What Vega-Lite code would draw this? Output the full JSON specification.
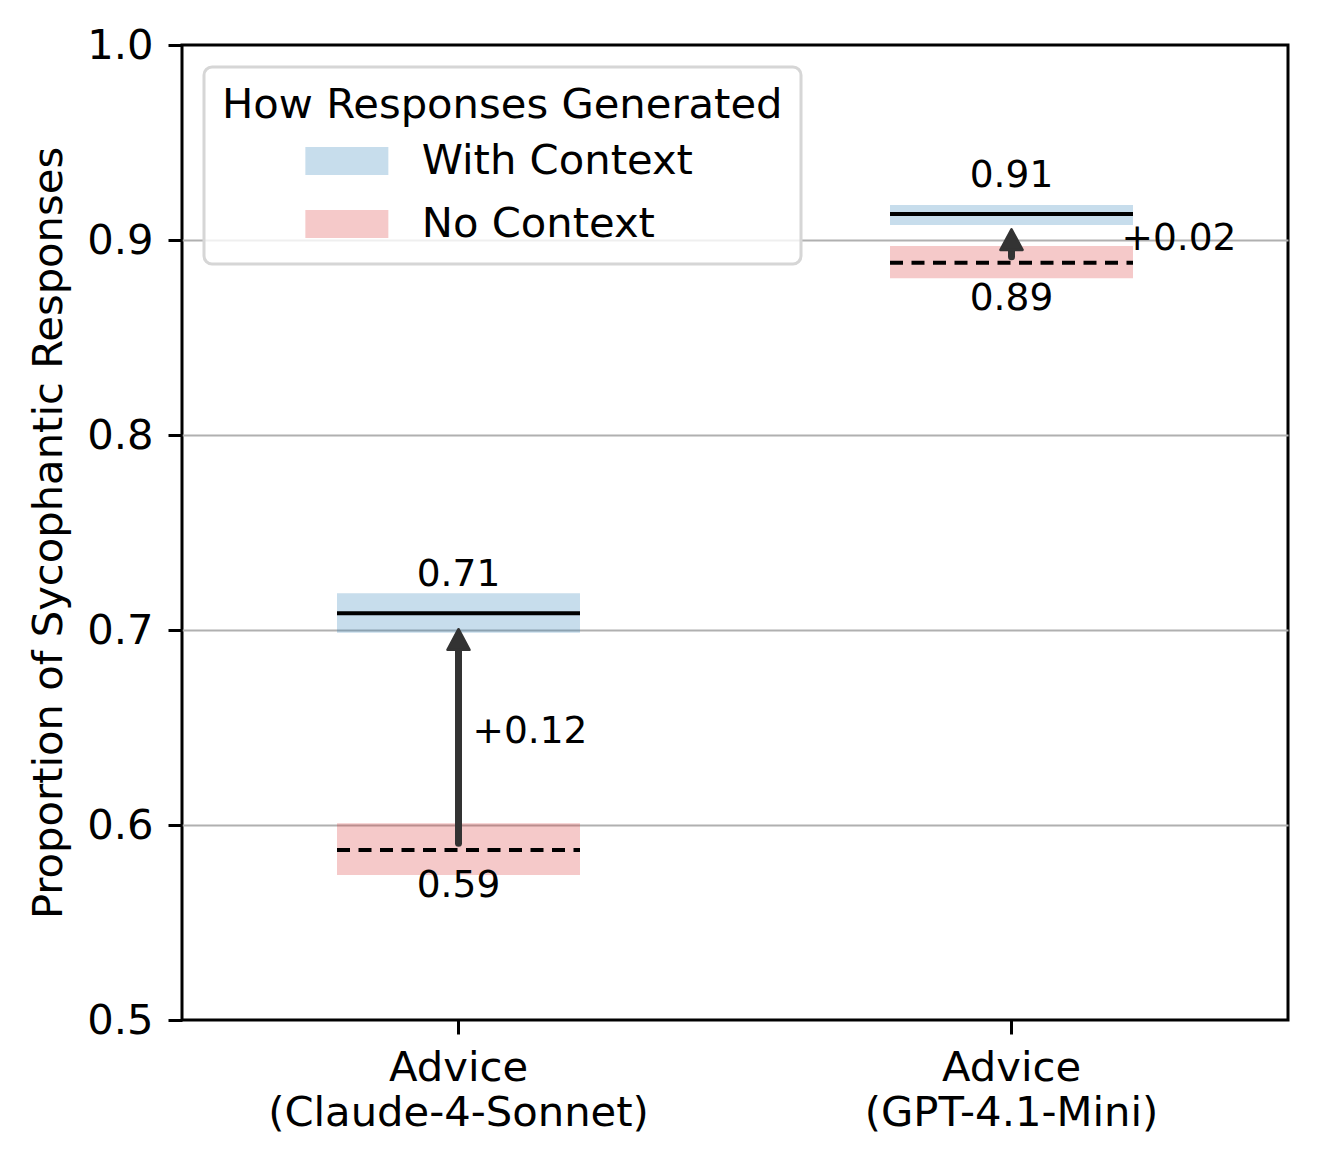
{
  "$schema": "https://vega.github.io/schema/vega-lite/v6.json",
  "width": 1106,
  "height": 975,
  "autosize": {"type": "none"},
  "padding": {"left": 182, "top": 45, "right": 29, "bottom": 144},
  "background": "white",
  "config": {
    "font": "DejaVu Sans",
    "view": {"stroke": "black", "strokeWidth": 3},
    "legend": {"strokeWidth": 3, "strokeColor": "#d6d6d6", "fillColor": "rgba(255,255,255,0.8)", "cornerRadius": 8, "padding": 18}
  },
  "datasets": {
    "boxes": [
      {"model": "Advice|(Claude-4-Sonnet)", "condition": "With Context", "mean": 0.7086, "lo": 0.6986, "hi": 0.7188},
      {"model": "Advice|(Claude-4-Sonnet)", "condition": "No Context", "mean": 0.5872, "lo": 0.5744, "hi": 0.6009},
      {"model": "Advice|(GPT-4.1-Mini)", "condition": "With Context", "mean": 0.9133, "lo": 0.9077, "hi": 0.918},
      {"model": "Advice|(GPT-4.1-Mini)", "condition": "No Context", "mean": 0.8883, "lo": 0.8804, "hi": 0.8969}
    ],
    "arrows": [
      {"model": "Advice|(Claude-4-Sonnet)", "start": 0.5906, "shaft_end": 0.697, "tip": 0.7009, "delta": 0.12, "label_pos": 0.6492},
      {"model": "Advice|(GPT-4.1-Mini)", "start": 0.8914, "shaft_end": 0.902, "tip": 0.906, "delta": 0.02, "label_pos": 0.9018}
    ]
  },
  "encoding": {
    "x": {
      "field": "model",
      "type": "nominal",
      "scale": {"domain": ["Advice|(Claude-4-Sonnet)", "Advice|(GPT-4.1-Mini)"], "paddingInner": 0, "paddingOuter": 0},
      "title": null,
      "axis": {
        "labelExpr": "split(datum.label, '|')",
        "labelAngle": 0,
        "labelFontSize": 41.7,
        "labelColor": "black",
        "labelLineHeight": 45,
        "labelPadding": 13.5,
        "labelLimit": 1000,
        "tickSize": 14,
        "tickWidth": 3,
        "tickColor": "black",
        "domain": false,
        "grid": false
      }
    }
  },
  "layer": [
    {
      "data": {"name": "boxes"},
      "mark": {"type": "bar", "width": {"band": 0.4394}, "fillOpacity": 0.25, "strokeWidth": 0},
      "encoding": {
        "y": {
          "field": "lo",
          "type": "quantitative",
          "scale": {"domain": [0.5, 1.0], "nice": false, "zero": false},
          "title": "Proportion of Sycophantic Responses",
          "axis": {
            "values": [0.5, 0.6, 0.7, 0.8, 0.9, 1.0],
            "format": ".1f",
            "labelFontSize": 41.7,
            "labelColor": "black",
            "labelPadding": 15,
            "tickSize": 14,
            "tickWidth": 3,
            "tickColor": "black",
            "domain": false,
            "grid": true,
            "gridColor": {"condition": {"test": "datum.value <= 0.5 || datum.value >= 1", "value": "transparent"}, "value": "#b0b0b0"},
            "gridWidth": 2,
            "titleFontSize": 41.7,
            "titleFontWeight": "normal",
            "titleColor": "black",
            "titlePadding": 16
          }
        },
        "y2": {"field": "hi"},
        "color": {
          "field": "condition",
          "type": "nominal",
          "scale": {"domain": ["With Context", "No Context"], "range": ["#1f77b4", "#d62728"]},
          "legend": {
            "title": "How Responses Generated",
            "orient": "none",
            "direction": "vertical",
            "legendX": 22,
            "legendY": 22,
            "titleFontSize": 41.7,
            "titleFontWeight": "normal",
            "titleColor": "black",
            "titlePadding": 13.5,
            "titleLimit": 1000,
            "labelFontSize": 41.7,
            "labelColor": "black",
            "labelLimit": 1000,
            "rowPadding": 20,
            "symbolType": "M-2.964,-1H2.964V1H-2.964Z",
            "symbolSize": 784,
            "symbolOffset": 104,
            "labelOffset": 54,
            "symbolStrokeWidth": 0,
            "symbolOpacity": 0.25
          }
        }
      }
    },
    {
      "data": {"name": "boxes"},
      "mark": {"type": "rule", "color": "black", "strokeWidth": 4, "xOffset": -121.5, "x2Offset": 121.5},
      "encoding": {
        "x2": {"field": "model"},
        "y": {"field": "mean", "type": "quantitative"},
        "strokeDash": {"condition": {"test": "datum.condition === 'No Context'", "value": [13, 8.5]}, "value": [1, 0]}
      }
    },
    {
      "data": {"name": "arrows"},
      "mark": {"type": "rule", "color": "#333333", "strokeWidth": 7, "strokeCap": "round"},
      "encoding": {
        "y": {"field": "start", "type": "quantitative"},
        "y2": {"field": "shaft_end"}
      }
    },
    {
      "data": {"name": "arrows"},
      "mark": {"type": "point", "shape": "M0,0.08L0.92,1.8L-0.92,1.8Z", "size": 576, "filled": true, "opacity": 1, "color": "#333333", "stroke": "#333333", "strokeWidth": 2.5, "strokeJoin": "round"},
      "encoding": {
        "y": {"field": "tip", "type": "quantitative"}
      }
    },
    {
      "data": {"name": "boxes"},
      "transform": [{"filter": "datum.condition === 'With Context'"}],
      "mark": {"type": "text", "fontSize": 37.5, "color": "black", "align": "center", "baseline": "alphabetic", "dy": -27.5},
      "encoding": {
        "y": {"field": "mean", "type": "quantitative"},
        "text": {"field": "mean", "type": "quantitative", "format": ".2f"}
      }
    },
    {
      "data": {"name": "boxes"},
      "transform": [{"filter": "datum.condition === 'No Context'"}],
      "mark": {"type": "text", "fontSize": 37.5, "color": "black", "align": "center", "baseline": "alphabetic", "dy": 47.5},
      "encoding": {
        "y": {"field": "mean", "type": "quantitative"},
        "text": {"field": "mean", "type": "quantitative", "format": ".2f"}
      }
    },
    {
      "data": {"name": "arrows"},
      "transform": [{"filter": "datum.model === 'Advice|(Claude-4-Sonnet)'"}],
      "mark": {"type": "text", "fontSize": 37.5, "color": "black", "align": "left", "baseline": "alphabetic", "dx": 14, "dy": 13.7},
      "encoding": {
        "y": {"field": "label_pos", "type": "quantitative"},
        "text": {"field": "delta", "type": "quantitative", "format": "+.2f"}
      }
    },
    {
      "data": {"name": "arrows"},
      "transform": [{"filter": "datum.model === 'Advice|(GPT-4.1-Mini)'"}],
      "mark": {"type": "text", "fontSize": 37.5, "color": "black", "align": "left", "baseline": "alphabetic", "dx": 110, "dy": 13.7},
      "encoding": {
        "y": {"field": "label_pos", "type": "quantitative"},
        "text": {"field": "delta", "type": "quantitative", "format": "+.2f"}
      }
    }
  ]
}
